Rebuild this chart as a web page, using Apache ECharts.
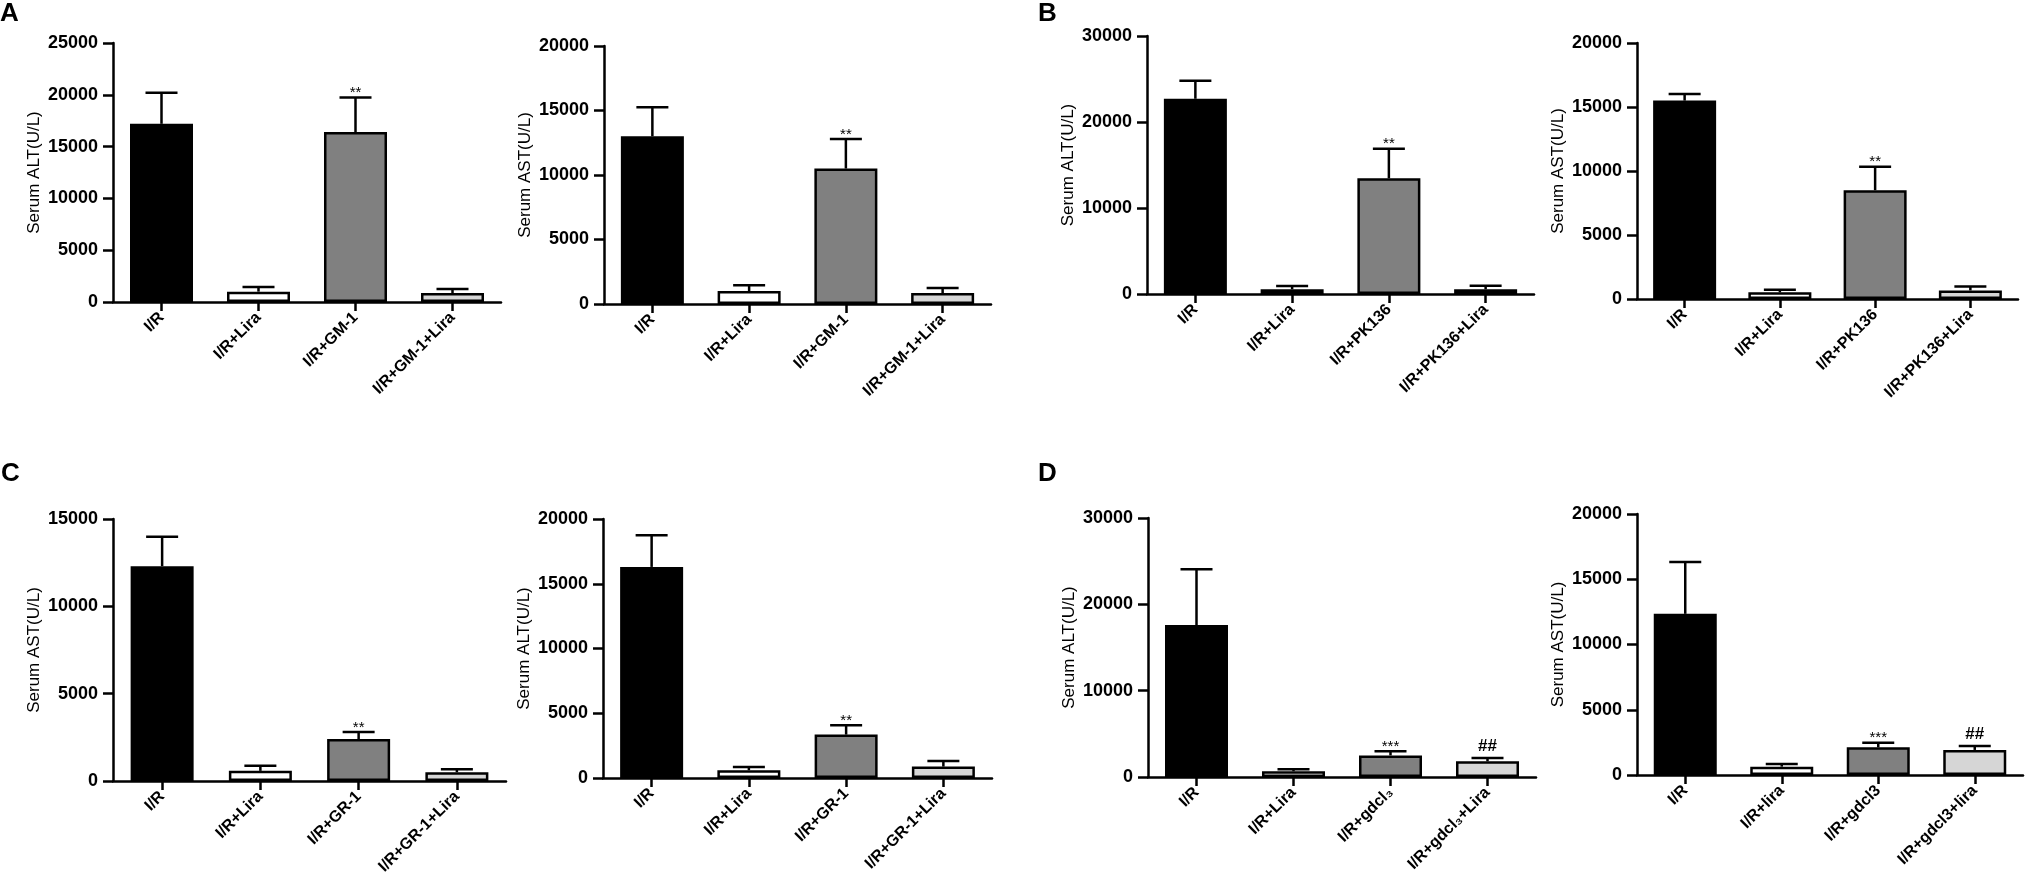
<!DOCTYPE html>
<html>
<head>
<meta charset="utf-8">
<title>Serum ALT / AST</title>
<script src="https://cdn.jsdelivr.net/npm/echarts/dist/echarts.min.js"></script>
<style>
  html, body { margin: 0; padding: 0; background: #fff; }
  #chart { width: 2031px; height: 895px; }
</style>
</head>
<body>
<div id="chart"></div>
<script>
// 组别
const catsA = ['I/R', 'I/R+Lira', 'I/R+GM-1', 'I/R+GM-1+Lira']
const catsB = ['I/R', 'I/R+Lira', 'I/R+PK136', 'I/R+PK136+Lira']
const catsC = ['I/R', 'I/R+Lira', 'I/R+GR-1', 'I/R+GR-1+Lira']
const catsD1 = ['I/R', 'I/R+Lira', 'I/R+gdcl₃', 'I/R+gdcl₃+Lira']
const catsD2 = ['I/R', 'I/R+lira', 'I/R+gdcl3', 'I/R+gdcl3+lira']

// 均值 / SEM（U/L）
const altA = [17200, 1000, 16400, 870]
const altASem = [3000, 450, 3350, 380]
const astA = [13000, 1000, 10500, 850]
const astASem = [2250, 450, 2300, 390]
const altB = [22700, 550, 13450, 550]
const altBSem = [2100, 380, 3450, 410]
const astB = [15500, 520, 8500, 670]
const astBSem = [520, 210, 1830, 310]
const astC = [12300, 580, 2400, 500]
const astCSem = [1680, 290, 400, 170]
const altC = [16300, 600, 3350, 880]
const altCSem = [2450, 250, 720, 430]
const altD = [17600, 660, 2500, 1820]
const altDSem = [6450, 240, 470, 380]
const astD = [12350, 640, 2120, 1920]
const astDSem = [3970, 200, 360, 300]

// 显著性标记
const marksABC = ['', '', '**', '']
const marksD = ['', '', '***', '##']

const fills = ['#000000', '#ffffff', '#808080', '#d6d6d6']
const FONT = '"Liberation Sans", Arial, sans-serif'

const panels = [
  { grid: { left: 113, top: 43, width: 388, height: 259 }, max: 25000, interval: 5000, name: 'Serum ALT(U/L)', cats: catsA, mean: altA, sem: altASem, marks: marksABC },
  { grid: { left: 604, top: 46, width: 387, height: 258 }, max: 20000, interval: 5000, name: 'Serum AST(U/L)', cats: catsA, mean: astA, sem: astASem, marks: marksABC },
  { grid: { left: 1147, top: 36, width: 387, height: 258 }, max: 30000, interval: 10000, name: 'Serum ALT(U/L)', cats: catsB, mean: altB, sem: altBSem, marks: marksABC },
  { grid: { left: 1637, top: 43, width: 381, height: 256 }, max: 20000, interval: 5000, name: 'Serum AST(U/L)', cats: catsB, mean: astB, sem: astBSem, marks: marksABC },
  { grid: { left: 113, top: 519, width: 393, height: 262 }, max: 15000, interval: 5000, name: 'Serum AST(U/L)', cats: catsC, mean: astC, sem: astCSem, marks: marksABC },
  { grid: { left: 603, top: 519, width: 389, height: 259 }, max: 20000, interval: 5000, name: 'Serum ALT(U/L)', cats: catsC, mean: altC, sem: altCSem, marks: marksABC },
  { grid: { left: 1148, top: 518, width: 388, height: 259 }, max: 30000, interval: 10000, name: 'Serum ALT(U/L)', cats: catsD1, mean: altD, sem: altDSem, marks: marksD },
  { grid: { left: 1637, top: 514, width: 386, height: 261 }, max: 20000, interval: 5000, name: 'Serum AST(U/L)', cats: catsD2, mean: astD, sem: astDSem, marks: marksD }
]

const axisLine = { show: true, lineStyle: { color: '#000', width: 2.5 } }

/**
 * 误差线 + 显著性标记
 */
const errorRenderer = marks => (params, api) => {
  const idx = api.value(0)
  const base = api.coord([idx, api.value(1)])
  const top = api.coord([idx, api.value(2)])
  const style = { stroke: '#000', lineWidth: 2.5 }
  const children = [
    { type: 'line', shape: { x1: top[0], y1: base[1], x2: top[0], y2: top[1] }, style },
    { type: 'line', shape: { x1: top[0] - 16, y1: top[1], x2: top[0] + 16, y2: top[1] }, style }
  ]
  const mark = marks[params.dataIndex]
  if (mark) {
    const isHash = mark.indexOf('#') >= 0
    children.push({
      type: 'text',
      x: top[0],
      y: isHash ? top[1] - 3 : top[1] + 3,
      style: {
        text: mark,
        fill: '#000',
        align: 'center',
        verticalAlign: 'bottom',
        font: (isHash ? 'bold 17px ' : '15px ') + FONT
      }
    })
  }
  return { type: 'group', children }
}

const option = {
  backgroundColor: '#fff',
  animation: false,
  grid: panels.map(p => p.grid),
  xAxis: panels.map((p, i) => ({
    type: 'category',
    gridIndex: i,
    data: p.cats,
    axisLine,
    axisTick: { show: true, alignWithLabel: true, length: 9, lineStyle: { color: '#000', width: 2.5 } },
    axisLabel: { rotate: 45, interval: 0, margin: 13, color: '#000', fontSize: 16, fontWeight: 'bold', fontFamily: FONT },
    splitLine: { show: false }
  })),
  yAxis: panels.map((p, i) => ({
    type: 'value',
    gridIndex: i,
    min: 0,
    max: p.max,
    interval: p.interval,
    name: p.name,
    nameLocation: 'middle',
    nameGap: 70,
    nameTextStyle: { color: '#000', fontSize: 17, fontFamily: FONT },
    axisLine,
    axisTick: { show: true, length: 10, lineStyle: { color: '#000', width: 2.5 } },
    axisLabel: { margin: 15, color: '#000', fontSize: 18, fontWeight: 'bold', fontFamily: FONT, formatter: v => String(v) },
    splitLine: { show: false }
  })),
  series: panels.flatMap((p, i) => [
    {
      type: 'bar',
      xAxisIndex: i,
      yAxisIndex: i,
      barWidth: 63,
      itemStyle: { borderColor: '#000', borderWidth: 2.5 },
      data: p.mean.map((v, k) => ({ value: v, itemStyle: { color: fills[k] } }))
    },
    {
      type: 'custom',
      xAxisIndex: i,
      yAxisIndex: i,
      clip: false,
      z: 3,
      renderItem: errorRenderer(p.marks),
      data: p.mean.map((v, k) => [k, v, v + p.sem[k]])
    }
  ]),
  graphic: [
    { type: 'text', left: 0, top: 1, style: { text: 'A', font: 'bold 26px ' + FONT, fill: '#000' } },
    { type: 'text', left: 1038, top: 1, style: { text: 'B', font: 'bold 26px ' + FONT, fill: '#000' } },
    { type: 'text', left: 1, top: 461, style: { text: 'C', font: 'bold 26px ' + FONT, fill: '#000' } },
    { type: 'text', left: 1038, top: 461, style: { text: 'D', font: 'bold 26px ' + FONT, fill: '#000' } }
  ]
}

const chart = echarts.init(document.getElementById('chart'))
chart.setOption(option)
window.addEventListener('resize', () => chart.resize())
</script>
</body>
</html>
